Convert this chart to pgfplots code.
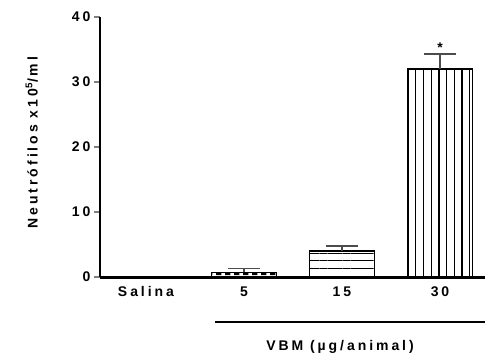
\documentclass[border=0pt]{standalone}
\usepackage{fontspec}
\setmainfont{Liberation Sans}[LetterSpace=21]
\usepackage{pgfplots}
\pgfplotsset{compat=1.18}
\usetikzlibrary{patterns,patterns.meta}
\pgfdeclarepatternformonly{dashrow}{\pgfpointorigin}{\pgfpoint{9bp}{5bp}}{\pgfpoint{9bp}{5bp}}{%
  \pgfpathrectangle{\pgfpoint{0bp}{1bp}}{\pgfpoint{6bp}{2.5bp}}\pgfusepath{fill}}
\pgfplotsset{errb/.style={
  error bars/y dir=plus, error bars/y explicit,
  error bars/error bar style={line width=1.5bp, black!70},
  error bars/error mark options={rotate=90, mark size=16bp, line width=1.5bp, black!70}}}
\newcommand{\lbl}{\bfseries\fontsize{14bp}{16bp}\selectfont}
\begin{document}
\begin{tikzpicture}
\begin{axis}[
  scale only axis,
  width=385bp, height=260bp,
  xmin=-0.469, xmax=3.459,
  ymin=0, ymax=40,
  axis x line=bottom, axis y line=left,
  axis line style={line width=2.2bp, -},
  x axis line style={line width=3bp},
  xtick={0,1,2,3},
  xticklabels={Salina,5,15,30},
  xtick style={draw=none},
  ytick={0,10,20,30,40},
  tick align=outside,
  major tick length=6bp,
  ytick style={line width=2bp},
  /pgf/number format/assume math mode=true,
  tick label style={font=\lbl},
  label style={font=\lbl},
  ylabel={Neutrófilos x10\textsuperscript{5}/ml},
  ylabel style={at={(axis description cs:-0.177,0.517)}, anchor=center},
  clip=false,
  ybar, bar width=0.663, bar shift=0pt,
]
\addplot[draw=black, line width=1.2bp, fill=white] coordinates {(0,0)};
\addplot[draw=black, line width=1.2bp, pattern=dashrow, errb] coordinates {(1,0.7) +- (0,0.6)};
\addplot[draw=black, line width=1.2bp, pattern={Lines[angle=0, distance=7.7bp, line width=1.2bp]}, errb] coordinates {(2,4.0) +- (0,0.8)};
\addplot[draw=black, line width=1.2bp, pattern={Lines[angle=90, distance=7.7bp, line width=1.2bp]}, errb] coordinates {(3,32.0) +- (0,2.3)};
\node[anchor=south, inner sep=1bp, font=\lbl] at (axis cs:3,34.4) {*};
\draw[line width=2bp] (axis cs:0.704,-6.92) -- (axis cs:3.459,-6.92);
\node[font=\lbl] at (axis cs:1.98,-10.77) {VBM (µg/animal)};
\end{axis}
\pgfresetboundingbox
\useasboundingbox ([shift={(-100bp,-84bp)}]current axis.south west) rectangle ([shift={(1bp,17bp)}]current axis.north east);
\end{tikzpicture}
\end{document}
